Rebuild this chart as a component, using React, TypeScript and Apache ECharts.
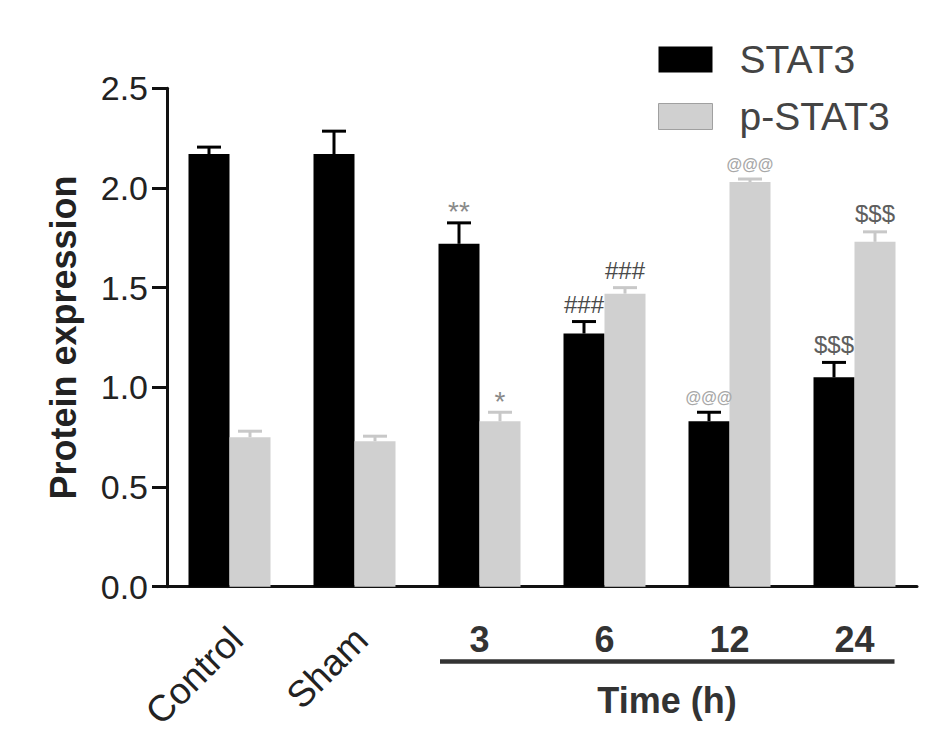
import React, { useEffect, useRef } from 'react';
import * as echarts from 'echarts';

const categories = ['Control', 'Sham', '3', '6', '12', '24'];
const stat3 = [2.17, 2.17, 1.72, 1.27, 0.83, 1.05];
const stat3Err = [0.035, 0.115, 0.105, 0.06, 0.045, 0.075];
const pStat3 = [0.75, 0.73, 0.83, 1.47, 2.03, 1.73];
const pStat3Err = [0.03, 0.025, 0.045, 0.03, 0.015, 0.05];
const stat3Marks = ['', '', '**', '###', '@@@', '$$$'];
const pStat3Marks = ['', '', '*', '###', '@@@', '$$$'];
const yTicks = [0, 0.5, 1, 1.5, 2, 2.5];

const FONT = '"Liberation Sans", Arial, Helvetica, sans-serif';
const BAR_W = 41;

// look of each significance symbol, keyed by its first char
const markStyles: Record<string, { size: number; color: string; weight: string; lift: number }> = {
  '*': { size: 28, color: '#8a8a8a', weight: 'normal', lift: 11 },
  '#': { size: 24, color: '#4a4a4a', weight: 'normal', lift: 17 },
  '@': { size: 16, color: '#a8a8a8', weight: 'bold', lift: 15 },
  '$': { size: 24, color: '#5e5e5e', weight: 'normal', lift: 18 },
};

const errorSeries = (name: string, values: number[], errs: number[], marks: string[], color: string, shift: number) => ({
  type: 'custom',
  name,
  z: 5,
  data: values.map((v, i) => [i, v, errs[i]]),
  renderItem: (params: any, api: any) => {
    const i = api.value(0);
    const v = api.value(1);
    const e = api.value(2);
    const base = api.coord([i, v]);
    const top = api.coord([i, v + e]);
    const x = base[0] + shift;
    const children: any[] = [
      { type: 'line', shape: { x1: x, y1: base[1], x2: x, y2: top[1] }, style: { stroke: color, lineWidth: 3 } },
      { type: 'line', shape: { x1: x - 12, y1: top[1], x2: x + 12, y2: top[1] }, style: { stroke: color, lineWidth: 3 } },
    ];
    const mark = marks[params.dataIndex];
    if (mark) {
      const s = markStyles[mark[0]];
      children.push({
        type: 'text',
        style: {
          text: mark,
          x,
          y: top[1] - s.lift,
          align: 'center',
          verticalAlign: 'middle',
          fontSize: s.size,
          fontWeight: s.weight,
          fontFamily: FONT,
          fill: s.color,
        },
      });
    }
    return { type: 'group', children };
  },
});

const App: React.FC = () => {
  const chartRef = useRef<HTMLDivElement>(null);

  useEffect(() => {
    if (!chartRef.current) return;
    const chart = echarts.init(chartRef.current, undefined, { renderer: 'svg' });

    const option: any = {
      animation: false,
      backgroundColor: '#ffffff',
      textStyle: { fontFamily: FONT },
      grid: { left: 167, top: 88.3, width: 750, height: 498.4 },
      legend: {
        orient: 'vertical',
        left: 653,
        top: 35,
        itemWidth: 54,
        itemHeight: 26,
        itemGap: 18,
        icon: 'rect',
        textStyle: { fontSize: 39, color: '#444', fontFamily: FONT, padding: [0, 0, 0, 22] },
        data: [
          { name: 'STAT3', itemStyle: { color: '#000' } },
          { name: 'p-STAT3', itemStyle: { color: '#d0d0d0', borderColor: '#a0a0a0', borderWidth: 1 } },
        ],
      },
      xAxis: [
        {
          type: 'category',
          data: categories,
          position: 'bottom',
          axisLine: { lineStyle: { color: '#111', width: 3 } },
          axisTick: { alignWithLabel: true, length: 15, lineStyle: { color: '#111', width: 3 } },
          axisLabel: {
            interval: 0,
            rotate: 45,
            margin: 54,
            padding: [0, -10, 0, 0],
            fontSize: 37,
            color: '#222',
            fontFamily: FONT,
            formatter: (v: string, i: number) => (i < 2 ? v : ''),
          },
        },
        {
          type: 'category',
          data: categories,
          position: 'bottom',
          axisLine: { show: false },
          axisTick: { show: false },
          axisLabel: {
            interval: 0,
            margin: 35,
            fontSize: 36,
            fontWeight: 'bold',
            color: '#333',
            fontFamily: FONT,
            formatter: (v: string, i: number) => (i >= 2 ? v : ''),
          },
        },
      ],
      yAxis: {
        type: 'value',
        min: yTicks[0],
        max: yTicks[yTicks.length - 1],
        interval: 0.5,
        name: 'Protein expression',
        nameLocation: 'middle',
        nameGap: 86,
        nameTextStyle: { fontSize: 36, fontWeight: 'bold', color: '#222', fontFamily: FONT },
        axisLine: { show: true, lineStyle: { color: '#111', width: 3 } },
        axisTick: { show: true, length: 15, lineStyle: { color: '#111', width: 3 } },
        splitLine: { show: false },
        axisLabel: {
          margin: 19,
          fontSize: 34,
          color: '#222',
          fontFamily: FONT,
          formatter: (v: number) => v.toFixed(1),
        },
      },
      series: [
        { name: 'STAT3', type: 'bar', barWidth: BAR_W, barGap: '0%', data: stat3, itemStyle: { color: '#000' } },
        { name: 'p-STAT3', type: 'bar', barWidth: BAR_W, barGap: '0%', data: pStat3, itemStyle: { color: '#d0d0d0' } },
        errorSeries('STAT3 err', stat3, stat3Err, stat3Marks, '#000', -BAR_W / 2),
        errorSeries('p-STAT3 err', pStat3, pStat3Err, pStat3Marks, '#c8c8c8', BAR_W / 2),
      ],
    };

    chart.setOption(option);

    // bracket under the time points, placed from the axis positions
    const xFirst = chart.convertToPixel({ xAxisIndex: 1 }, '3') as number;
    const xLast = chart.convertToPixel({ xAxisIndex: 1 }, '24') as number;
    chart.setOption({
      graphic: [
        {
          type: 'line',
          shape: { x1: xFirst - 39.5, y1: 661.5, x2: xLast + 40, y2: 661.5 },
          style: { stroke: '#333', lineWidth: 4.5 },
        },
        {
          type: 'text',
          x: (xFirst + xLast) / 2,
          y: 682,
          style: {
            text: 'Time (h)',
            align: 'center',
            verticalAlign: 'top',
            fontSize: 36,
            fontWeight: 'bold',
            fontFamily: FONT,
            fill: '#333',
          },
        },
      ],
    });

    return () => {
      chart.dispose();
    };
  }, []);

  return <div ref={chartRef} style={{ position: 'fixed', left: 0, top: 0, width: 945, height: 756 }} />;
};

export default App;
